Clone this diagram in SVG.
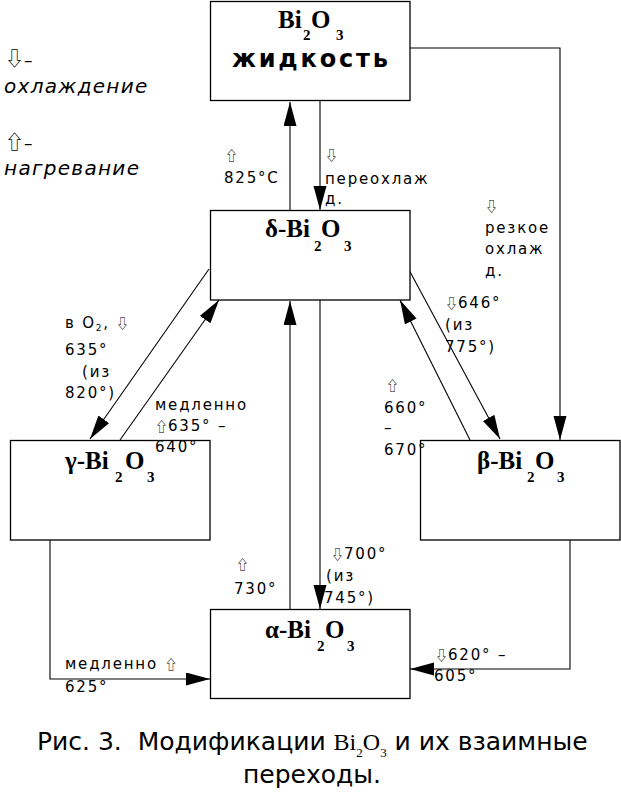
<svg xmlns="http://www.w3.org/2000/svg" width="621" height="799" viewBox="0 0 621 799">
<style>
.box{fill:#fff;stroke:#000;stroke-width:1.3}
.ln{fill:none;stroke:#000;stroke-width:1.1}
.arr{marker-end:url(#ah)}
.nm{font-family:"Liberation Serif",serif;font-weight:bold;font-size:25px;fill:#000}
.sb{font-family:"Liberation Serif",serif;font-weight:bold;font-size:15px;fill:#000}
.lb{font-family:"DejaVu Sans",sans-serif;font-size:15px;letter-spacing:1.8px;fill:#000}
.ic{font-family:"Noto Sans CJK SC","DejaVu Sans",sans-serif;font-size:13px;letter-spacing:0;fill:#000}
.icL{font-family:"Noto Sans CJK SC","DejaVu Sans",sans-serif;font-size:19px;fill:#000}
.lg{font-family:"DejaVu Sans",sans-serif;font-style:italic;font-size:20px;letter-spacing:1.3px;fill:#000}
.cap{font-family:"DejaVu Sans",sans-serif;font-size:25px;fill:#000}
.capS{font-family:"Liberation Serif",serif;font-size:24px}
.capSub{font-family:"Liberation Serif",serif;font-size:13px}
</style>
<defs>
<marker id="ah" markerUnits="userSpaceOnUse" markerWidth="26" markerHeight="14" refX="24" refY="6.5" orient="auto">
<path d="M0,0 L24,6.5 L0,13 z" fill="#000"/>
</marker>
</defs>

<g id="connectors">
<line class="ln arr" x1="320" y1="101" x2="320" y2="210"/>
<line class="ln arr" x1="290" y1="210" x2="290" y2="102"/>
<polyline class="ln arr" points="410,48 560,48 560,440"/>
<line class="ln arr" x1="209" y1="269" x2="90" y2="439"/>
<line class="ln arr" x1="120" y1="440" x2="219" y2="300"/>
<line class="ln arr" x1="408" y1="268" x2="500" y2="439"/>
<line class="ln arr" x1="470" y1="440" x2="400" y2="300"/>
<line class="ln arr" x1="320" y1="300" x2="320" y2="609"/>
<line class="ln arr" x1="290" y1="609" x2="290" y2="301"/>
<polyline class="ln arr" points="50,540 50,679 210,679"/>
<polyline class="ln arr" points="570,540 570,669 410,669"/>
</g>

<g id="node-liquid">
<rect class="box" x="210.5" y="1.5" width="199.5" height="99"/>
<text class="nm" x="278" y="28">Bi</text>
<text class="sb" x="303" y="40">2</text>
<text class="nm" x="311" y="28">O</text>
<text class="sb" x="336" y="40">3</text>
<text x="232" y="67" font-family="DejaVu Sans,sans-serif" font-weight="bold" font-size="24" textLength="156" lengthAdjust="spacing">жидкость</text>
</g>

<g id="node-delta">
<rect class="box" x="210.5" y="210.5" width="199.5" height="89.5"/>
<text class="nm" x="265" y="237">δ-Bi</text>
<text class="sb" x="314" y="251">2</text>
<text class="nm" x="321" y="237">O</text>
<text class="sb" x="344" y="251">3</text>
</g>

<g id="node-gamma">
<rect class="box" x="10.5" y="440.5" width="199.5" height="99.5"/>
<text class="nm" x="65" y="469">γ-Bi</text>
<text class="sb" x="115" y="482">2</text>
<text class="nm" x="125" y="469">O</text>
<text class="sb" x="147" y="482">3</text>
</g>

<g id="node-beta">
<rect class="box" x="420.5" y="440.5" width="199.5" height="99.5"/>
<text class="nm" x="477" y="469">β-Bi</text>
<text class="sb" x="527" y="482">2</text>
<text class="nm" x="535" y="469">O</text>
<text class="sb" x="557" y="482">3</text>
</g>

<g id="node-alpha">
<rect class="box" x="210.5" y="609.5" width="199.5" height="89"/>
<text class="nm" x="265" y="638">α-Bi</text>
<text class="sb" x="317" y="651">2</text>
<text class="nm" x="325" y="638">O</text>
<text class="sb" x="347" y="651">3</text>
</g>

<g id="legend">
<text class="icL" x="5" y="66">⇩&#xFE0E;<tspan font-family="DejaVu Sans" font-size="17">–</tspan></text>
<text class="lg" x="4" y="93">охлаждение</text>
<text class="icL" x="5" y="149">⇧&#xFE0E;<tspan font-family="DejaVu Sans" font-size="17">–</tspan></text>
<text class="lg" x="4" y="175">нагревание</text>
</g>

<g id="labels">
<text class="ic" x="225" y="160">⇧&#xFE0E;</text>
<text class="lb" x="224" y="183">825°C</text>
<text class="ic" x="325" y="160">⇩&#xFE0E;</text>
<text class="lb" x="325" y="184">переохлаж</text>
<text class="lb" x="325" y="204">д.</text>

<text class="ic" x="485" y="211">⇩&#xFE0E;</text>
<text class="lb" x="485" y="233">резкое</text>
<text class="lb" x="485" y="254">охлаж</text>
<text class="lb" x="485" y="276">д.</text>

<text class="lb" x="445" y="308"><tspan class="ic">⇩&#xFE0E;</tspan>646°</text>
<text class="lb" x="445" y="330">(из</text>
<text class="lb" x="445" y="352">775°)</text>

<text class="lb" x="65" y="328">в O<tspan font-size="9" dy="3">2</tspan><tspan dy="-3">,</tspan><tspan class="ic" dx="6">⇩&#xFE0E;</tspan></text>
<text class="lb" x="65" y="355">635°</text>
<text class="lb" x="82" y="377">(из</text>
<text class="lb" x="65" y="398">820°)</text>

<text class="lb" x="155" y="410">медленно</text>
<text class="lb" x="155" y="431"><tspan class="ic">⇧&#xFE0E;</tspan>635° –</text>
<text class="lb" x="155" y="452">640°</text>

<text class="ic" x="386" y="390">⇧&#xFE0E;</text>
<text class="lb" x="384" y="413">660°</text>
<text class="lb" x="384" y="433">–</text>
<text class="lb" x="384" y="455">670°</text>

<text class="ic" x="236" y="569">⇧&#xFE0E;</text>
<text class="lb" x="234" y="594">730°</text>
<text class="lb" x="331" y="559"><tspan class="ic">⇩&#xFE0E;</tspan>700°</text>
<text class="lb" x="326" y="581">(из</text>
<text class="lb" x="324" y="603">745°)</text>

<text class="lb" x="65" y="669">медленно <tspan class="ic">⇧&#xFE0E;</tspan></text>
<text class="lb" x="65" y="692">625°</text>

<text class="lb" x="435" y="660"><tspan class="ic">⇩&#xFE0E;</tspan>620° –</text>
<text class="lb" x="434" y="681">605°</text>
</g>

<g id="caption">
<text class="cap" x="37" y="750" xml:space="preserve">Рис. 3.  Модификации <tspan class="capS">Bi</tspan><tspan class="capSub" dy="7">2</tspan><tspan class="capS" dy="-7">O</tspan><tspan class="capSub" dy="7">3</tspan><tspan dy="-7"> и их взаимные</tspan></text>
<text class="cap" x="312" y="783" text-anchor="middle">переходы.</text>
</g>
</svg>
